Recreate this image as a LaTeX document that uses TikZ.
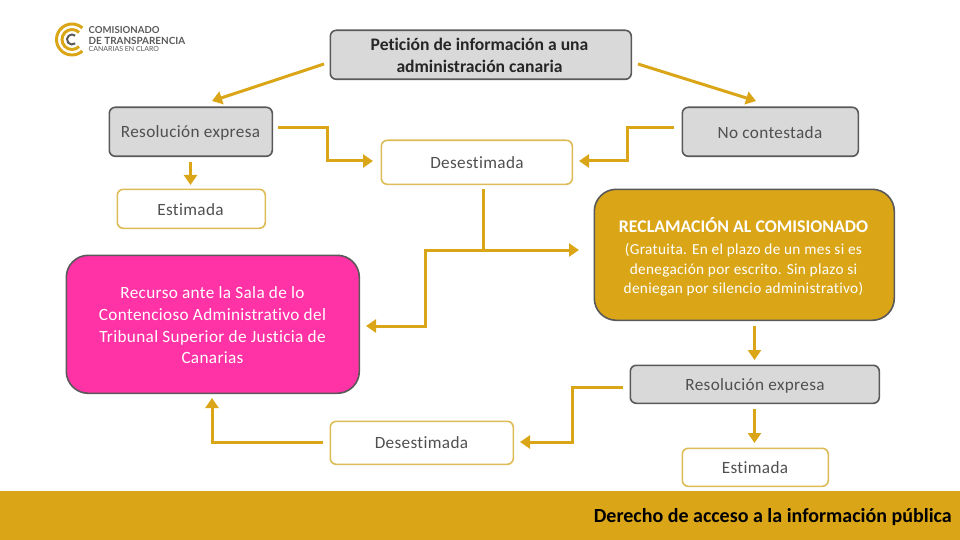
\documentclass[tikz,border=0pt]{standalone}
\usepackage{fontspec}
\setmainfont[LetterSpace=2,Ligatures=NoCommon]{Carlito}
\newfontfamily\plainf[Ligatures=NoCommon]{Carlito}
\newfontfamily\logof{Lato}
\usetikzlibrary{arrows.meta}
\definecolor{gold}{HTML}{DAA618}
\definecolor{pale}{HTML}{DDBB55}
\definecolor{slate}{HTML}{595959}
\definecolor{boxgrey}{HTML}{D9D9D9}
\definecolor{pinkbox}{HTML}{FF33A5}
\definecolor{txt}{HTML}{505050}
\tikzset{
 box/.style={draw=slate,line width=1.6pt,rounded corners=6pt,anchor=north west,inner sep=0pt},
 greybox/.style={box,fill=boxgrey},
 whitebox/.style={box,draw=pale,fill=white,rounded corners=6pt},
 bigbox/.style={box,rounded corners=22pt},
 lab/.style={font=\fontsize{17.2}{21}\selectfont,text=txt,align=center,inner sep=0pt},
 conn/.style={draw=gold,line width=3pt,-{Triangle[length=10pt,width=13pt]}},
 plainconn/.style={draw=gold,line width=3pt},
}
\newcommand{\bx}[6]{\node[#1,minimum width=#4pt-#2pt,minimum height=#5pt-#3pt] (#6) at (#2-0.5,#3-0.5) {};}
\begin{document}
\begin{tikzpicture}[x=1pt,y=-1pt]
\useasboundingbox (0,0) rectangle (960,540);
\fill[gold] (0,491) rectangle (960,540);
\bx{greybox}{330}{30}{631}{79}{pet}
\bx{greybox}{109}{107}{272}{156}{resa}
\bx{greybox}{682}{107}{858}{156}{noc}
\bx{whitebox}{381}{140}{572}{184}{desa}
\bx{whitebox}{117}{189}{265}{228}{esta}
\bx{bigbox,fill=gold}{594}{189}{894}{320}{rec}
\bx{bigbox,fill=pinkbox}{66}{255}{359}{393}{recu}
\bx{greybox}{630}{365}{879}{403}{resb}
\bx{whitebox}{330}{421}{513}{464}{desb}
\bx{whitebox}{682}{448}{828}{486}{estb}
% labels
\node[lab,text=black!85,font=\plainf\fontsize{17.6}{22}\selectfont\bfseries] (tpet) at (479.5,55) {Petición de información a una\\administración canaria};
\node[lab] (tresa) at (190.5,133) {Resolución expresa};
\node[lab] (tnoc) at (770,133) {No contestada};
\node[lab] (tdesa) at (477,163) {Desestimada};
\node[lab] (testa) at (190.5,210) {Estimada};
\node[lab,text=white,font=\plainf\fontsize{17.8}{20}\selectfont\bfseries] (trec) at (743.5,225) {RECLAMACIÓN AL COMISIONADO};
\node[lab,text=white,font=\fontsize{15.3}{19.5}\selectfont] (trecb) at (743.5,270) {(Gratuita. En el plazo de un mes si es\\denegación por escrito. Sin plazo si\\deniegan por silencio administrativo)};
\node[lab,text=white,font=\fontsize{17.2}{21.7}\selectfont] (trecu) at (212.5,325.5) {Recurso ante la Sala de lo\\Contencioso Administrativo del\\Tribunal Superior de Justicia de\\Canarias};
\node[lab] (tresb) at (755,386) {Resolución expresa};
\node[lab] (tdesb) at (421.5,443) {Desestimada};
\node[lab] (testb) at (755,468) {Estimada};
\node[anchor=east,inner sep=0pt,font=\plainf\fontsize{20}{22}\selectfont\bfseries,text=black] (tder) at (952,517.5) {Derecho de acceso a la información pública};
% connectors
\coordinate (a1) at (324,64); \coordinate (a2) at (212,101);
\coordinate (b1) at (638,64); \coordinate (b2) at (756,101);
\draw[conn] (a1) -- (a2);
\draw[conn] (b1) -- (b2);
\coordinate (c1) at (278,128); \coordinate (c2) at (373,161);
\draw[conn] (c1) -- (327,128) -- (327,161) -- (c2);
\coordinate (d1) at (674,128); \coordinate (d2) at (579,161);
\draw[conn] (d1) -- (627,128) -- (627,161) -- (d2);
\coordinate (e1) at (190.5,162); \coordinate (e2) at (190.5,185);
\draw[conn] (e1) -- (e2);
\coordinate (f1) at (483,189); \coordinate (f2) at (483,250); \coordinate (f3) at (579,250); \coordinate (f4) at (366,326);
\draw[plainconn] (f1) -- (f2);
\draw[conn] (f2) -- (f3);
\draw[conn] (f2) -- (425,250) -- (425,326) -- (f4);
\coordinate (g1) at (754.5,326); \coordinate (g2) at (754.5,360);
\draw[conn] (g1) -- (g2);
\coordinate (h1) at (754.5,409); \coordinate (h2) at (754.5,443);
\draw[conn] (h1) -- (h2);
\coordinate (i1) at (623,387); \coordinate (i2) at (520,442);
\draw[conn] (i1) -- (572,387) -- (572,442) -- (i2);
\coordinate (j1) at (323,442); \coordinate (j2) at (212,398);
\draw[conn] (j1) -- (212,442) -- (j2);
% logo
\coordinate (lg) at (72,39.5);
\draw[gold,line width=3pt] (lg) ++(48:15.5) arc (48:312:15.5);
\draw[gold,line width=3pt] (lg) ++(45:10) arc (45:315:10);
\draw[slate,line width=2pt] (lg) ++(50:5) arc (50:310:5);
\node[anchor=west,inner sep=0pt,font=\logof\fontsize{9.6}{8}\selectfont\bfseries,text=slate] (l1) at (88.5,30.5) {COMISIONADO};
\node[anchor=west,inner sep=0pt,font=\logof\fontsize{9.9}{8}\selectfont\bfseries,text=slate] (l2) at (88.5,40.5) {DE TRANSPARENCIA};
\node[anchor=west,inner sep=0pt,font=\logof\fontsize{7}{6}\selectfont,text=slate] (l3) at (88.5,49) {CANARIAS EN CLARO};
\end{tikzpicture}
\end{document}
